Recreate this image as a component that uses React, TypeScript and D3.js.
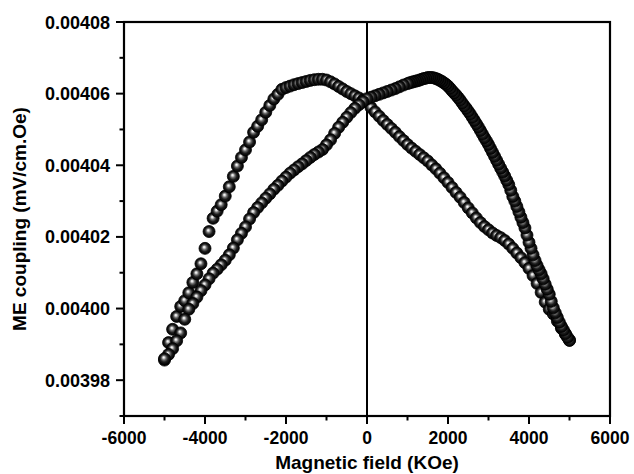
import React from "react";
import * as d3 from "d3";

// sweep A: -5000 -> +5000 KOe (peak on the negative side)
const fieldA = [
  -5000, -4900, -4800, -4700, -4600, -4500, -4400, -4300, -4200, -4100,
  -4000, -3900, -3800, -3700, -3600, -3500, -3400, -3300, -3200, -3100,
  -3000, -2900, -2800, -2700, -2600, -2500, -2400, -2300, -2200, -2100,
  -2000, -1900, -1800, -1700, -1600, -1500, -1400, -1300, -1200, -1100,
  -1000, -900, -800, -700, -600, -500, -400, -300, -200, -100,
  0, 100, 200, 300, 400, 500, 600, 700, 800, 900,
  1000, 1100, 1200, 1300, 1400, 1500, 1600, 1700, 1800, 1900,
  2000, 2100, 2200, 2300, 2400, 2500, 2600, 2700, 2800, 2900,
  3000, 3100, 3200, 3300, 3400, 3500, 3600, 3700, 3800, 3900,
  4000, 4100, 4200, 4300, 4400, 4500, 4600, 4700, 4800, 4900,
  5000,
];

const couplingA = [
  0.0039856, 0.0039905, 0.0039942, 0.0039978, 0.0040006, 0.0040022, 0.0040044, 0.0040073, 0.0040097, 0.0040125,
  0.0040168, 0.0040215, 0.0040252, 0.0040272, 0.004029, 0.0040314, 0.004034, 0.0040369, 0.0040398, 0.0040422,
  0.0040443, 0.0040465, 0.0040492, 0.0040509, 0.0040527, 0.0040548, 0.0040567, 0.0040585, 0.0040598, 0.0040612,
  0.0040617, 0.0040621, 0.0040625, 0.0040628, 0.0040631, 0.0040634, 0.0040637, 0.0040639, 0.004064, 0.004064,
  0.0040638, 0.0040633, 0.0040627, 0.004062, 0.0040613, 0.0040606, 0.00406, 0.0040594, 0.0040588, 0.0040582,
  0.0040576, 0.0040561, 0.0040549, 0.0040537, 0.0040525, 0.0040514, 0.0040503, 0.0040492, 0.004048, 0.0040469,
  0.0040458, 0.0040448, 0.0040439, 0.004043, 0.0040421, 0.0040412, 0.0040401, 0.004039, 0.0040378, 0.0040365,
  0.0040352, 0.0040338, 0.0040324, 0.0040311, 0.0040296, 0.0040281, 0.0040267, 0.0040253, 0.004024, 0.0040229,
  0.004022, 0.0040211, 0.0040204, 0.0040198, 0.004019, 0.004018, 0.0040168, 0.0040155, 0.0040142, 0.0040128,
  0.0040112, 0.0040092, 0.004007, 0.0040045, 0.0040018, 0.0039998, 0.0039985, 0.0039965, 0.0039945, 0.0039928,
  0.0039912,
];

// sweep B: +5000 -> -5000 KOe (peak on the positive side), finer steps at the start
const fieldB = [
  5000, 4950, 4900, 4850, 4800, 4750, 4700, 4650, 4600, 4550,
  4500, 4450, 4400, 4350, 4300, 4250, 4200, 4150, 4100, 4050,
  4000, 3950, 3900, 3850, 3800, 3750, 3700, 3650, 3600, 3550,
  3500, 3450, 3400, 3350, 3300, 3250, 3200, 3150, 3100, 3050,
  3000, 2950, 2900, 2850, 2800, 2750, 2700, 2650, 2600, 2550,
  2500, 2450, 2400, 2350, 2300, 2250, 2200, 2150, 2100, 2050,
  2000, 1950, 1900, 1850, 1800, 1750, 1700, 1650, 1600, 1550,
  1500, 1450, 1400, 1350, 1300, 1250, 1200, 1150, 1100, 1050,
  1000, 900, 800, 700, 600, 500, 400, 300, 200, 100,
  0, -100, -200, -300, -400, -500, -600, -700, -800, -900,
  -1000, -1100, -1200, -1300, -1400, -1500, -1600, -1700, -1800, -1900,
  -2000, -2100, -2200, -2300, -2400, -2500, -2600, -2700, -2800, -2900,
  -3000, -3100, -3200, -3300, -3400, -3500, -3600, -3700, -3800, -3900,
  -4000, -4100, -4200, -4300, -4400, -4500, -4600, -4700, -4800, -4900,
  -5000,
];

const couplingB = [
  0.0039911, 0.003992, 0.003993, 0.003994, 0.003995, 0.0039962, 0.0039975, 0.0039988, 0.0040002, 0.004002,
  0.004004, 0.0040054, 0.0040068, 0.0040083, 0.0040097, 0.0040108, 0.004012, 0.0040134, 0.004015, 0.0040168,
  0.0040185, 0.0040205, 0.0040225, 0.004024, 0.0040255, 0.004027, 0.0040285, 0.00403, 0.0040313, 0.004033,
  0.0040346, 0.0040358, 0.004037, 0.0040381, 0.0040392, 0.0040403, 0.0040414, 0.0040425, 0.0040436, 0.0040447,
  0.0040458, 0.0040468, 0.0040477, 0.0040487, 0.0040497, 0.0040507, 0.0040516, 0.0040525, 0.0040534, 0.0040543,
  0.0040551, 0.0040559, 0.0040566, 0.0040574, 0.0040582, 0.0040589, 0.0040596, 0.0040602, 0.0040608, 0.0040615,
  0.0040621, 0.0040626, 0.004063, 0.0040634, 0.0040637, 0.004064, 0.0040642, 0.0040644, 0.0040645, 0.0040645,
  0.0040645, 0.0040643, 0.0040642, 0.004064, 0.0040638, 0.0040636, 0.0040635, 0.0040633, 0.0040632, 0.004063,
  0.0040628, 0.0040624, 0.0040619, 0.0040614, 0.004061, 0.0040606, 0.0040602, 0.0040598, 0.0040594, 0.004059,
  0.0040586, 0.0040578, 0.0040569, 0.0040559, 0.0040547, 0.0040534, 0.004052, 0.0040506, 0.0040489, 0.0040471,
  0.0040457, 0.0040444, 0.0040437, 0.004043, 0.0040422, 0.0040413, 0.0040404, 0.0040396, 0.0040387, 0.0040378,
  0.0040367, 0.0040356, 0.0040344, 0.0040333, 0.004032, 0.0040308, 0.0040295, 0.0040282, 0.0040268, 0.004025,
  0.0040228, 0.004021, 0.0040192, 0.0040169, 0.004015, 0.0040135, 0.0040122, 0.004011, 0.0040099, 0.0040083,
  0.0040066, 0.004005, 0.0040032, 0.0040014, 0.0039998, 0.003997, 0.0039932, 0.003991, 0.0039888, 0.0039872,
  0.003986,
];

const xMajorTicks = [-6000, -4000, -2000, 0, 2000, 4000, 6000];
const xMinorTicks = [-5000, -3000, -1000, 1000, 3000, 5000];
const yMajorTicks = [0.00398, 0.004, 0.00402, 0.00404, 0.00406, 0.00408];
const yMinorTicks = [0.00397, 0.00399, 0.00401, 0.00403, 0.00405, 0.00407];

const xTitle = "Magnetic field (KOe)";
const yTitle = "ME coupling (mV/cm.Oe)";

export default function App() {
  const W = 634;
  const H = 474;
  const left = 124;
  const right = 610;
  const top = 22;
  const bottom = 416;

  const x = d3.scaleLinear().domain([-6000, 6000]).range([left, right]);
  const y = d3.scaleLinear().domain([0.00397, 0.00408]).range([bottom, top]);

  const font = "'Liberation Sans', Arial, Helvetica, sans-serif";
  const fmtY = (v: number) => v.toFixed(5);

  const ptsA = fieldA.map((f, i) => [f, couplingA[i]] as [number, number]);
  const ptsB = fieldB.map((f, i) => [f, couplingB[i]] as [number, number]);

  const r = 6;

  return (
    <svg
      width={W}
      height={H}
      style={{ position: "absolute", left: 0, top: 0, background: "#fff" }}
    >
      <defs>
        <radialGradient id="bead" cx="0.5" cy="0.5" r="0.5" fx="0.42" fy="0.38">
          <stop offset="0%" stopColor="#ffffff" />
          <stop offset="14%" stopColor="#e0e0e0" />
          <stop offset="38%" stopColor="#6a6a6a" />
          <stop offset="65%" stopColor="#1c1c1c" />
          <stop offset="100%" stopColor="#000" />
        </radialGradient>
      </defs>

      {/* zero line */}
      <line x1={x(0)} x2={x(0)} y1={top} y2={bottom} stroke="#000" strokeWidth={2} />

      {/* markers */}
      <g>
        {ptsA.map((p, i) => (
          <circle key={"a" + i} cx={x(p[0])} cy={y(p[1])} r={r} fill="url(#bead)" stroke="#000" strokeWidth={0.8} />
        ))}
        {ptsB.map((p, i) => (
          <circle key={"b" + i} cx={x(p[0])} cy={y(p[1])} r={r} fill="url(#bead)" stroke="#000" strokeWidth={0.8} />
        ))}
      </g>

      {/* frame */}
      <rect x={left} y={top} width={right - left} height={bottom - top} fill="none" stroke="#000" strokeWidth={2.2} />

      {/* x ticks */}
      {xMajorTicks.map((t) => (
        <g key={"xt" + t}>
          <line x1={x(t)} x2={x(t)} y1={bottom} y2={bottom + 8} stroke="#000" strokeWidth={2} />
          <text x={x(t)} y={444} textAnchor="middle" fontFamily={font} fontWeight="bold" fontSize={17.5}>
            {t}
          </text>
        </g>
      ))}
      {xMinorTicks.map((t) => (
        <line key={"xm" + t} x1={x(t)} x2={x(t)} y1={bottom} y2={bottom + 4.5} stroke="#000" strokeWidth={2} />
      ))}

      {/* y ticks */}
      {yMajorTicks.map((t) => (
        <g key={"yt" + t}>
          <line x1={left - 8} x2={left} y1={y(t)} y2={y(t)} stroke="#000" strokeWidth={2} />
          <text x={110} y={y(t) + 6.5} textAnchor="end" fontFamily={font} fontWeight="bold" fontSize={18}>
            {fmtY(t)}
          </text>
        </g>
      ))}
      {yMinorTicks.map((t) => (
        <line key={"ym" + t} x1={left - 4.5} x2={left} y1={y(t)} y2={y(t)} stroke="#000" strokeWidth={2} />
      ))}

      {/* titles */}
      <text x={(left + right) / 2} y={469} textAnchor="middle" fontFamily={font} fontWeight="bold" fontSize={19}>
        {xTitle}
      </text>
      <text
        transform={`translate(26, ${(top + bottom) / 2}) rotate(-90)`}
        textAnchor="middle"
        fontFamily={font}
        fontWeight="bold"
        fontSize={19}
      >
        {yTitle}
      </text>
    </svg>
  );
}
